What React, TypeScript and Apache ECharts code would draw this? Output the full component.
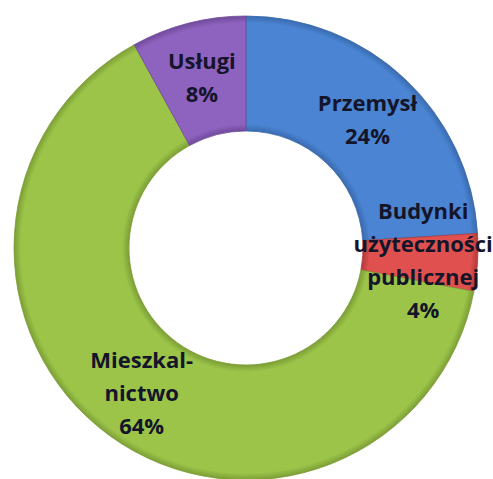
import React, { useEffect, useRef } from "react";
import * as echarts from "echarts";

const categories = ["Przemysł", "Budynki\nużyteczności\npublicznej", "Mieszkal-\nnictwo", "Usługi"];
const values = [24, 4, 64, 8];
const colors = ["#4A84D2", "#E0504E", "#9BC449", "#8E62BF"];
const edgeColors = ["#3A6AAE", "#B23A38", "#7C9E36", "#6F4A9A"];

export default function App() {
  const ref = useRef<HTMLDivElement>(null);
  useEffect(() => {
    document.body.style.margin = "0";
    const chart = echarts.init(ref.current!, null, { renderer: "svg" });
    const cx = 246, cy = 248, r0 = 117, r1 = 232;
    const data = categories.map((name, i) => ({
      name,
      value: values[i],
      itemStyle: {
        color: new echarts.graphic.RadialGradient(cx, cy, r1, [
          { offset: r0 / r1, color: edgeColors[i] },
          { offset: r0 / r1 + 0.03, color: colors[i] },
          { offset: 0.97, color: colors[i] },
          { offset: 1, color: edgeColors[i] },
        ], true),
        borderColor: edgeColors[i],
        borderWidth: 0.8,
      },
    }));
    chart.setOption({
      animation: false,
      backgroundColor: "#ffffff",
      series: [
        {
          type: "pie",
          center: [cx, cy],
          radius: [r0, r1],
          startAngle: 90,
          clockwise: true,
          data,
          label: {
            show: true,
            position: "inside",
            formatter: (p: any) => `${p.name}\n${p.value}%`,
            fontFamily: "Open Sans",
            fontWeight: "bold",
            fontSize: 22,
            lineHeight: 33,
            color: "#15152a",
          },
          labelLine: { show: false },
          emphasis: { disabled: true },
        },
      ],
    });
    return () => chart.dispose();
  }, []);
  return <div ref={ref} style={{ width: 493, height: 479 }} />;
}
